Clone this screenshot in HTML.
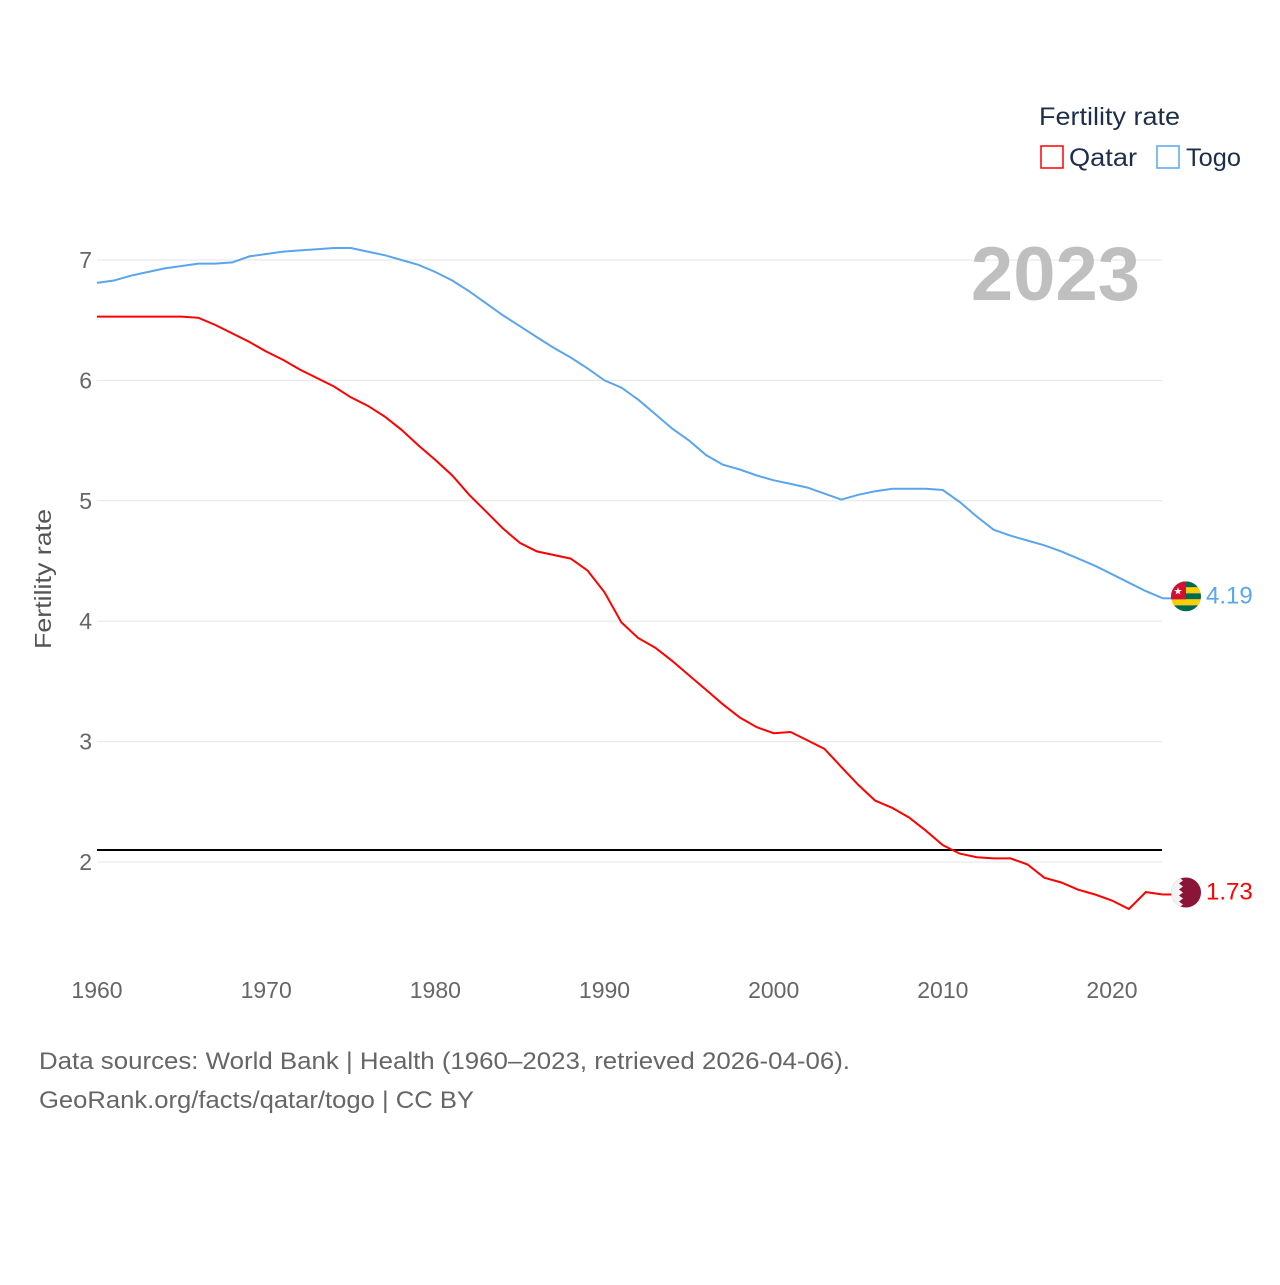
<!DOCTYPE html>
<html><head><meta charset="utf-8">
<style>
html,body{margin:0;padding:0;background:#fff;}
body{width:1280px;height:1280px;overflow:hidden;font-family:"Liberation Sans",sans-serif;}
</style></head>
<body>
<svg id="chart" width="1280" height="1280" xmlns="http://www.w3.org/2000/svg" font-family="Liberation Sans, sans-serif">
<g id="grid"></g>
<g id="yticks"></g>
<g id="xticks"></g>
<text x="1140" y="300" text-anchor="end" font-size="76" font-weight="bold" fill="#bfbfbf">2023</text>
<line id="refline" stroke="#000" stroke-width="2"/>
<path id="togo" fill="none" stroke="#5aa5ec" stroke-width="2"/>
<path id="qatar" fill="none" stroke="#ff0000" stroke-width="2"/>
<g id="ends"></g>
<text transform="translate(51,579) rotate(-90)" text-anchor="middle" font-size="23" fill="#555" textLength="140" lengthAdjust="spacingAndGlyphs">Fertility rate</text>
<g>
<text x="1039" y="125" font-size="25" fill="#1c2e4a" textLength="141" lengthAdjust="spacingAndGlyphs">Fertility rate</text>
<rect x="1041" y="146" width="22" height="22" fill="none" stroke="#ff0000" stroke-width="1.5"/>
<text x="1069" y="166" font-size="25" fill="#1c2e4a" textLength="68" lengthAdjust="spacingAndGlyphs">Qatar</text>
<rect x="1157" y="146" width="22" height="22" fill="none" stroke="#5aa5ec" stroke-width="1.5"/>
<text x="1186" y="166" font-size="25" fill="#1c2e4a" textLength="55" lengthAdjust="spacingAndGlyphs">Togo</text>
</g>
<text x="39" y="1069" font-size="24" fill="#666" textLength="811" lengthAdjust="spacingAndGlyphs">Data sources: World Bank | Health (1960–2023, retrieved 2026-04-06).</text>
<text x="39" y="1108" font-size="24" fill="#666" textLength="435" lengthAdjust="spacingAndGlyphs">GeoRank.org/facts/qatar/togo | CC BY</text>
</svg>
<script>
const years = [];for(let y=1960;y<=2023;y++)years.push(y);
const togoValues=[6.81,6.83,6.87,6.90,6.93,6.95,6.97,6.97,6.98,7.03,7.05,7.07,7.08,7.09,7.10,7.10,7.07,7.04,7.00,6.96,6.90,6.83,6.74,6.64,6.54,6.45,6.36,6.27,6.19,6.10,6.00,5.94,5.84,5.72,5.60,5.50,5.38,5.30,5.26,5.21,5.17,5.14,5.11,5.06,5.01,5.05,5.08,5.10,5.10,5.10,5.09,4.99,4.87,4.76,4.71,4.67,4.63,4.58,4.52,4.46,4.39,4.32,4.25,4.19];
const qatarValues=[6.53,6.53,6.53,6.53,6.53,6.53,6.52,6.46,6.39,6.32,6.24,6.17,6.09,6.02,5.95,5.86,5.79,5.70,5.59,5.46,5.34,5.21,5.05,4.91,4.77,4.65,4.58,4.55,4.52,4.42,4.24,3.99,3.86,3.78,3.67,3.55,3.43,3.31,3.20,3.12,3.07,3.08,3.01,2.94,2.79,2.64,2.51,2.45,2.37,2.26,2.14,2.07,2.04,2.03,2.03,1.98,1.87,1.83,1.77,1.73,1.68,1.61,1.75,1.73];
const yTicks=[2,3,4,5,6,7];
const xTicks=[1960,1970,1980,1990,2000,2010,2020];
const refValue=2.1;
const NS="http://www.w3.org/2000/svg";
function xs(yr){return 97+(yr-1960)*(1015/60);}
function ys(v){return 260+(7-v)*120.4;}
function mk(t,a,p){const e=document.createElementNS(NS,t);for(const k in a)e.setAttribute(k,a[k]);p.appendChild(e);return e;}
const grid=document.getElementById('grid'),yt=document.getElementById('yticks'),xt=document.getElementById('xticks');
yTicks.forEach(v=>{
 const l=mk('line',{x1:97,x2:1162,y1:ys(v),y2:ys(v),stroke:'#e6e6e6','stroke-width':1},grid);
 
 
 const t=mk('text',{x:92,y:ys(v)+8,'text-anchor':'end','font-size':23,fill:'#666'},yt);
 t.textContent=v;
 
 
});
xTicks.forEach(v=>{
 const t=mk('text',{x:xs(v),y:998,'text-anchor':'middle','font-size':23,fill:'#666'},xt);
 t.textContent=v;
 
 
});
const r=document.getElementById('refline');
r.setAttribute('x1',97);r.setAttribute('x2',1162);r.setAttribute('y1',ys(refValue));r.setAttribute('y2',ys(refValue));
function path(vals){return vals.map((v,i)=>(i?'L':'M')+xs(years[i]).toFixed(1)+','+ys(v).toFixed(1)).join(' ');}
document.getElementById('togo').setAttribute('d',path(togoValues));
document.getElementById('qatar').setAttribute('d',path(qatarValues));
const ends=document.getElementById('ends');
function endLabel(vals,color,name,flag){
 const v=vals[vals.length-1],x=xs(years[years.length-1]),y=ys(v);
 mk('line',{x1:x,x2:1172,y1:y,y2:y,stroke:color,'stroke-width':2},ends);
 const g=mk('g',{},ends);
 
 
 flag(g,1186,y-2);
 const t=mk('text',{x:1206,y:y+5,'font-size':24,fill:color},ends);
 t.textContent=v.toFixed(2);
 
 
}
endLabel(togoValues,'#5aa5ec','togo',(g,cx,cy)=>{
 const cp=mk('clipPath',{id:'cT'},g);mk('circle',{cx:cx,cy:cy,r:15},cp);
 const h=30/5;
 for(let i=0;i<5;i++)mk('rect',{x:cx-15,y:cy-15+i*h,width:30,height:h,fill:i%2?'#ffce00':'#006a4e','clip-path':'url(#cT)'},g);
 mk('rect',{x:cx-15,y:cy-15,width:15,height:18,fill:'#d21034','clip-path':'url(#cT)'},g);
 mk('text',{x:cx-8,y:cy-2,'text-anchor':'middle','font-size':10,fill:'#fff'},g).textContent='★';
});
endLabel(qatarValues,'#ff0000','qatar',(g,cx,cy)=>{
 const cp=mk('clipPath',{id:'cQ'},g);mk('circle',{cx:cx,cy:cy,r:15},cp);
 mk('circle',{cx:cx,cy:cy,r:15,fill:'#8a1538'},g);
 mk('path',{d:`M${cx-15},${cy-15} h8 l4,3 l-4,3 l4,3 l-4,3 l4,3 l-4,3 l4,3 l-4,3 l4,3 l-4,3 h-8 z`,fill:'#f3f3f3','clip-path':'url(#cQ)'},g);
});
</script>
</body></html>
